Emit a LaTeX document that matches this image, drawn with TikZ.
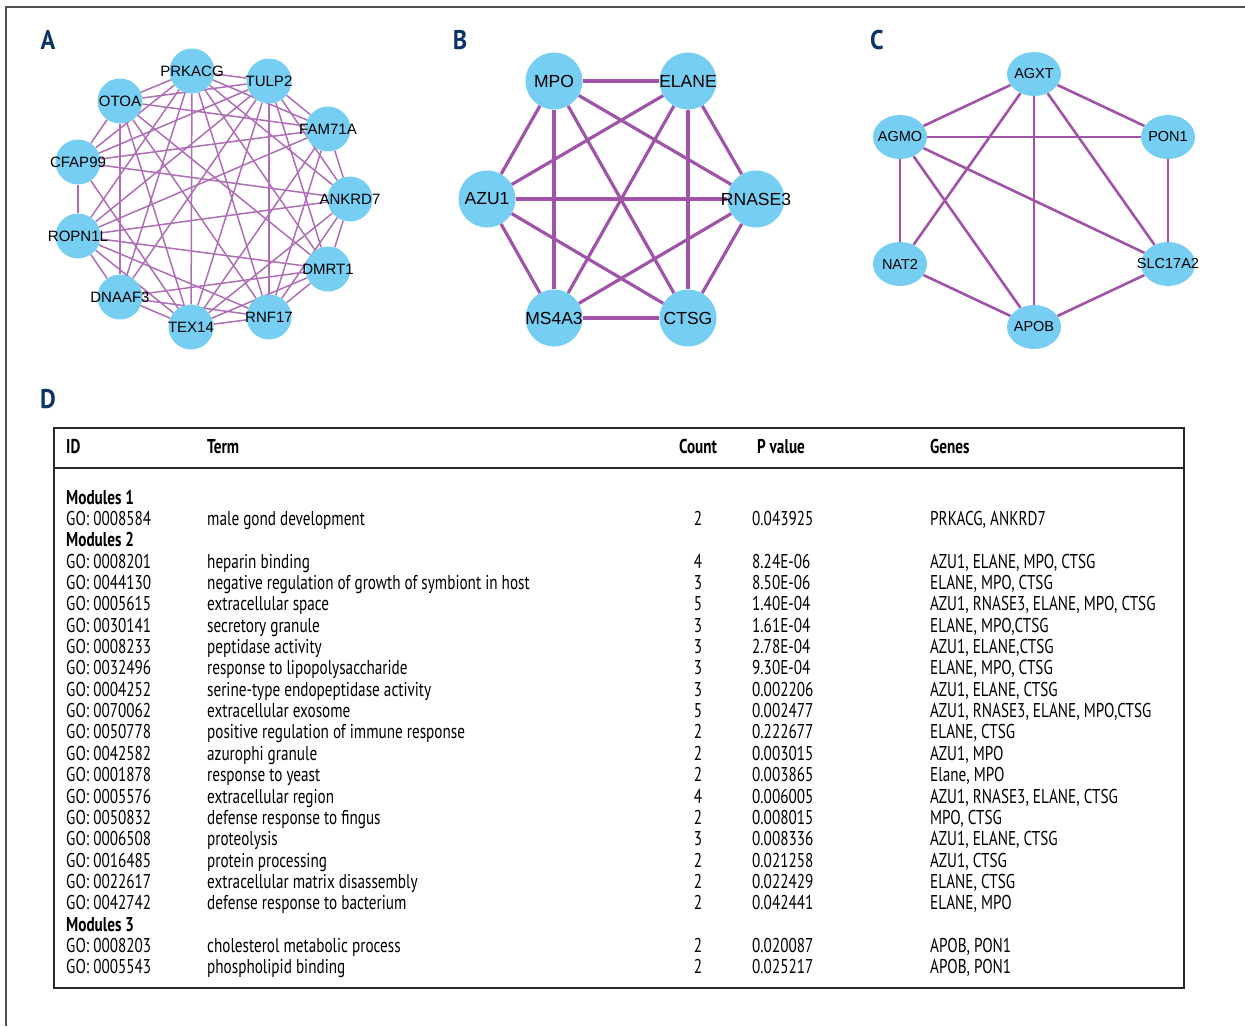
\documentclass[tikz,border=0pt]{standalone}
\usepackage{fontspec}
\setmainfont{Liberation Sans}
\newfontfamily\tabfont[FakeStretch=0.76]{PT Sans}
\newfontfamily\letterfont[FakeStretch=0.9]{PT Sans}
\usetikzlibrary{shapes.geometric,backgrounds}
\definecolor{geneblue}{RGB}{118,206,242}
\definecolor{edgeviolet}{RGB}{160,84,168}
\definecolor{panelnavy}{RGB}{12,52,102}
\definecolor{framegray}{RGB}{80,80,80}
\definecolor{rulegray}{RGB}{40,40,40}

\begin{document}
\begin{tikzpicture}[
  x=1pt, y=-1pt,
  panel/.style={font=\letterfont\bfseries\fontsize{27}{27}\selectfont, text=panelnavy, inner sep=0pt},
  geneA/.style={circle, fill=geneblue, minimum size=45pt, inner sep=0pt,
                label={[font=\fontsize{15}{15}\selectfont, inner sep=0pt]center:#1}},
  geneB/.style={circle, fill=geneblue, minimum size=57pt, inner sep=0pt,
                label={[font=\fontsize{17.5}{17.5}\selectfont, inner sep=0pt]center:#1}},
  geneC/.style={ellipse, fill=geneblue, minimum width=54pt, minimum height=44pt, inner sep=0pt,
                label={[font=\fontsize{14.5}{14.5}\selectfont, inner sep=0pt]center:#1}},
  edgeA/.style={edgeviolet!85, line width=1.5pt},
  edgeB/.style={edgeviolet, line width=3.2pt},
  edgeC/.style={edgeviolet, line width=2.6pt},
  cell/.style={anchor=base west, inner sep=0pt, font=\tabfont\fontsize{20}{22}\selectfont},
  num/.style={cell, anchor=base},
  head/.style={cell, font=\tabfont\bfseries\fontsize{20}{22}\selectfont}
]
\useasboundingbox (0,0) rectangle (1245,1026);
% ---- outer frame (top and left only) ----
\draw[framegray, line width=1.3pt] (6,1026) -- (6,7) -- (1245,7);

% ---- panel letters ----
\node[panel] (lblA) at (48,40) {A};
\node[panel] (lblB) at (460,40) {B};
\node[panel] (lblC) at (877,40) {C};
\node[panel] (lblD) at (48,399) {D};

% ---- A: module 1 network ----
\node[geneA=PRKACG] (PRKACG) at (192,71) {};
\node[geneA=TULP2]  (TULP2)  at (269,81) {};
\node[geneA=FAM71A] (FAM71A) at (328,129) {};
\node[geneA=ANKRD7] (ANKRD7) at (350,199) {};
\node[geneA=DMRT1]  (DMRT1)  at (328,269) {};
\node[geneA=RNF17]  (RNF17)  at (269,317) {};
\node[geneA=TEX14]  (TEX14)  at (191,327) {};
\node[geneA=DNAAF3] (DNAAF3) at (120,297) {};
\node[geneA=ROPN1L] (ROPN1L) at (78,236) {};
\node[geneA=CFAP99] (CFAP99) at (78,162) {};
\node[geneA=OTOA]   (OTOA)   at (120,101) {};
\begin{scope}[on background layer]
\foreach \s/\t in {PRKACG/TULP2, PRKACG/FAM71A, PRKACG/ANKRD7, PRKACG/DMRT1, PRKACG/RNF17,
                   PRKACG/TEX14, PRKACG/DNAAF3, PRKACG/ROPN1L, PRKACG/CFAP99, PRKACG/OTOA,
                   TULP2/FAM71A, TULP2/ANKRD7, TULP2/DMRT1, TULP2/RNF17, TULP2/TEX14,
                   TULP2/DNAAF3, TULP2/ROPN1L, TULP2/CFAP99, TULP2/OTOA,
                   FAM71A/ANKRD7, FAM71A/RNF17, FAM71A/TEX14, FAM71A/ROPN1L, FAM71A/CFAP99, FAM71A/OTOA,
                   ANKRD7/DMRT1, ANKRD7/RNF17, ANKRD7/TEX14, ANKRD7/ROPN1L, ANKRD7/CFAP99,
                   DMRT1/RNF17, DMRT1/TEX14, DMRT1/DNAAF3, DMRT1/ROPN1L, DMRT1/OTOA,
                   RNF17/TEX14, RNF17/DNAAF3, RNF17/ROPN1L, RNF17/OTOA,
                   TEX14/DNAAF3, TEX14/ROPN1L, TEX14/CFAP99, TEX14/OTOA,
                   DNAAF3/ROPN1L, DNAAF3/OTOA, ROPN1L/CFAP99, CFAP99/OTOA}
  \draw[edgeA] (\s) -- (\t);
\end{scope}

% ---- B: module 2 network (complete) ----
\node[geneB=MPO]    (MPO)    at (554,81) {};
\node[geneB=ELANE]  (ELANE)  at (688,81) {};
\node[geneB=RNASE3] (RNASE3) at (756,199) {};
\node[geneB=CTSG]   (CTSG)   at (688,318) {};
\node[geneB=MS4A3]  (MS4A3)  at (554,318) {};
\node[geneB=AZU1]   (AZU1)   at (487,199) {};
\begin{scope}[on background layer]
\foreach \s/\t in {MPO/ELANE, MPO/RNASE3, MPO/CTSG, MPO/MS4A3, MPO/AZU1,
                   ELANE/RNASE3, ELANE/CTSG, ELANE/MS4A3, ELANE/AZU1,
                   RNASE3/CTSG, RNASE3/MS4A3, RNASE3/AZU1,
                   CTSG/MS4A3, CTSG/AZU1, MS4A3/AZU1}
  \draw[edgeB] (\s) -- (\t);
\end{scope}

% ---- C: module 3 network ----
\node[geneC=AGXT]    (AGXT)    at (1034,74) {};
\node[geneC=PON1]    (PON1)    at (1168,137) {};
\node[geneC=SLC17A2] (SLC17A2) at (1168,264) {};
\node[geneC=APOB]    (APOB)    at (1034,327) {};
\node[geneC=NAT2]    (NAT2)    at (900,264) {};
\node[geneC=AGMO]    (AGMO)    at (900,137) {};
\begin{scope}[on background layer]
\foreach \s/\t in {AGXT/AGMO, AGXT/PON1, AGXT/NAT2, AGXT/APOB, AGXT/SLC17A2,
                   AGMO/PON1, AGMO/NAT2, AGMO/APOB, AGMO/SLC17A2,
                   PON1/SLC17A2, NAT2/APOB, SLC17A2/APOB}
  \draw[edgeC] (\s) -- (\t);
\end{scope}

% ---- D: enrichment table ----
\draw[rulegray, line width=2.4pt] (54,428) rectangle (1184,988);
\draw[rulegray, line width=2.2pt] (54,468) -- (1184,468);
\node[head] (hID)    at (66,453)  {ID};
\node[head] (hTerm)  at (207,453) {Term};
\node[head, anchor=base] (hCount) at (698,453) {Count};
\node[head] (hP)     at (757,453) {P value};
\node[head] (hGenes) at (930,453) {Genes};
% module headings
\foreach \r/\m in {0/1, 2/2, 20/3} {
  \pgfmathsetmacro\yy{497+21.36*\r+7}
  \node[head] (mod\m) at (66,\yy) {Modules \m};
}
% rows
\foreach \r/\id/\term/\cnt/\pv/\genes in {
  1/GO: 0008584/male gond development/2/0.043925/{PRKACG, ANKRD7},
  3/GO: 0008201/heparin binding/4/8.24E-06/{AZU1, ELANE, MPO, CTSG},
  4/GO: 0044130/negative regulation of growth of symbiont in host/3/8.50E-06/{ELANE, MPO, CTSG},
  5/GO: 0005615/extracellular space/5/1.40E-04/{AZU1, RNASE3, ELANE, MPO, CTSG},
  6/GO: 0030141/secretory granule/3/1.61E-04/{ELANE, MPO,CTSG},
  7/GO: 0008233/peptidase activity/3/2.78E-04/{AZU1, ELANE,CTSG},
  8/GO: 0032496/response to lipopolysaccharide/3/9.30E-04/{ELANE, MPO, CTSG},
  9/GO: 0004252/serine-type endopeptidase activity/3/0.002206/{AZU1, ELANE, CTSG},
  10/GO: 0070062/extracellular exosome/5/0.002477/{AZU1, RNASE3, ELANE, MPO,CTSG},
  11/GO: 0050778/positive regulation of immune response/2/0.222677/{ELANE, CTSG},
  12/GO: 0042582/azurophi granule/2/0.003015/{AZU1, MPO},
  13/GO: 0001878/response to yeast/2/0.003865/{Elane, MPO},
  14/GO: 0005576/extracellular region/4/0.006005/{AZU1, RNASE3, ELANE, CTSG},
  15/GO: 0050832/defense response to fingus/2/0.008015/{MPO, CTSG},
  16/GO: 0006508/proteolysis/3/0.008336/{AZU1, ELANE, CTSG},
  17/GO: 0016485/protein processing/2/0.021258/{AZU1, CTSG},
  18/GO: 0022617/extracellular matrix disassembly/2/0.022429/{ELANE, CTSG},
  19/GO: 0042742/defense response to bacterium/2/0.042441/{ELANE, MPO},
  21/GO: 0008203/cholesterol metabolic process/2/0.020087/{APOB, PON1},
  22/GO: 0005543/phospholipid binding/2/0.025217/{APOB, PON1}} {
  \pgfmathsetmacro\yy{497+21.36*\r+7}
  \node[cell] (id\r)   at (66,\yy)  {\id};
  \node[cell] (term\r) at (207,\yy) {\term};
  \node[num]  (cnt\r)  at (698,\yy) {\cnt};
  \node[cell] (pv\r)   at (752,\yy) {\pv};
  \node[cell] (gn\r)   at (930,\yy) {\genes};
}
\end{tikzpicture}
\end{document}
